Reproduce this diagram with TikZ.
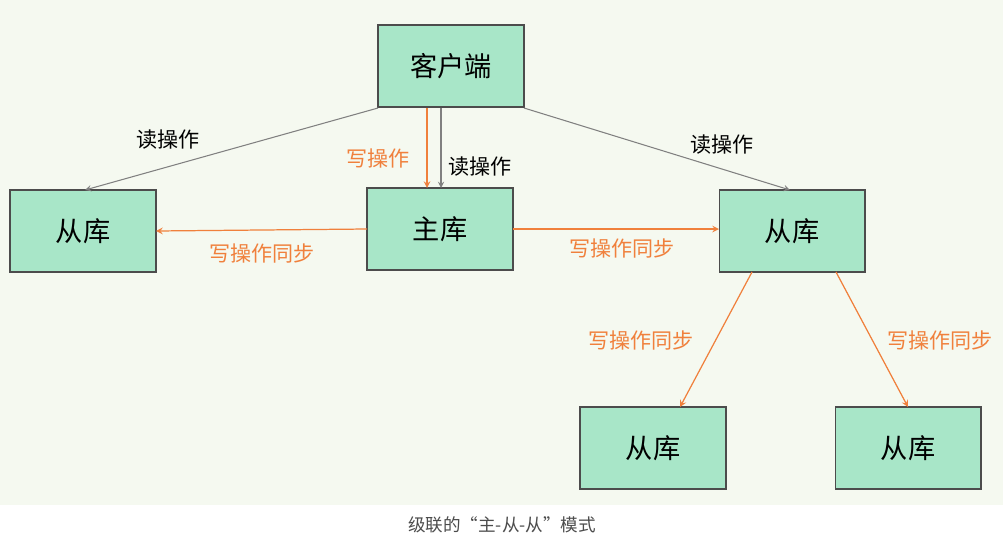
\documentclass[tikz,border=0pt]{standalone}
\usepackage{fontspec}
\setmainfont{Noto Sans CJK SC}
\definecolor{boxg}{RGB}{168,230,200}
\definecolor{orng}{RGB}{240,128,60}
\definecolor{bgc}{RGB}{245,249,240}
\begin{document}
\begin{tikzpicture}[x=0.02cm,y=-0.02cm,
  box/.style={draw=black!70,fill=boxg,line width=0.6pt,minimum width=2.92cm,minimum height=1.64cm,font=\fontsize{15.5}{18}\selectfont},
  rd/.style={draw=black!50,line width=0.6pt,-stealth},
  wr/.style={draw=orng,line width=0.7pt,-stealth},
  lbl/.style={font=\fontsize{12}{14}\selectfont},
  olbl/.style={lbl,text=orng}]
\fill[bgc] (0,0) rectangle (1003,505);
\fill[white] (0,505) rectangle (1003,545);
\useasboundingbox (0,0) rectangle (1003,545);
\node[box] (c) at (451,66) {客户端};
\node[box] (m) at (440,229) {主库};
\node[box] (l) at (83,231) {从库};
\node[box] (r) at (792,231) {从库};
\node[box] (b1) at (653,448) {从库};
\node[box] (b2) at (908,448) {从库};
\coordinate (c1) at (378,108); \coordinate (l1) at (85,190);
\draw[rd] (c1) -- (l1);
\node[lbl] (t1) at (168,140) {读操作};
\coordinate (c2) at (427,108); \coordinate (m2) at (427,188);
\draw[wr] (c2) -- (m2);
\node[olbl] (t2) at (378,158) {写操作};
\coordinate (c3) at (441,108); \coordinate (m3) at (441,188);
\draw[rd] (c3) -- (m3);
\node[lbl] (t3) at (480,167) {读操作};
\coordinate (c4) at (524,108); \coordinate (r4) at (790,190);
\draw[rd] (c4) -- (r4);
\node[lbl] (t4) at (722,145) {读操作};
\coordinate (m5) at (367,229); \coordinate (l5) at (156,231);
\draw[wr] (m5) -- (l5);
\node[olbl] (t5) at (262,254) {写操作同步};
\coordinate (m6) at (513,229); \coordinate (r6) at (719,229);
\draw[wr] (m6) -- (r6);
\node[olbl] (t6) at (622,249) {写操作同步};
\coordinate (r7) at (752,272); \coordinate (b7) at (680,407);
\draw[wr] (r7) -- (b7);
\node[olbl] (t7) at (641,340) {写操作同步};
\coordinate (r8) at (836,272); \coordinate (b8) at (908,407);
\draw[wr] (r8) -- (b8);
\node[olbl] (t8) at (940,340) {写操作同步};
\node[font=\fontsize{10}{12}\selectfont,text=black!70] (cap) at (502,525) {级联的“主-从-从”模式};
\end{tikzpicture}
\end{document}
